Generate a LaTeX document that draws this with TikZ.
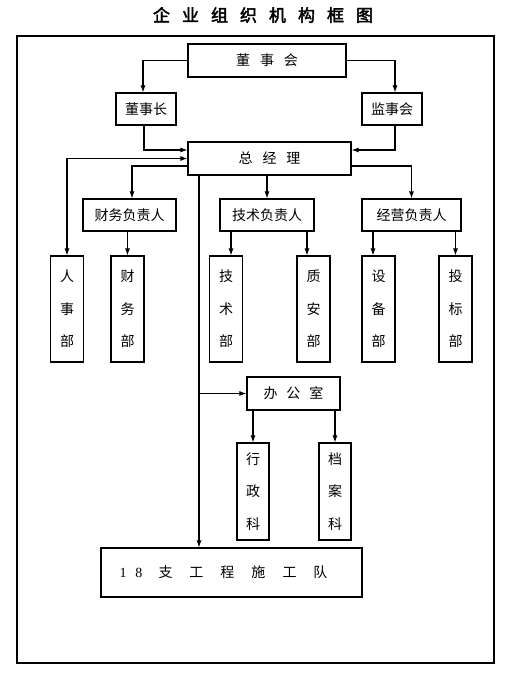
\documentclass[tikz,border=0pt]{standalone}
\usepackage{fontspec}
\usetikzlibrary{arrows.meta}
\newfontfamily\cjk{Noto Sans CJK SC}
\newfontfamily\cjkbold[FakeBold=2.5]{Noto Sans CJK SC}
\newfontfamily\numfont{Liberation Serif}
\newcommand\wgap{\hspace{12pt}}
\newcommand\sgap{\hspace{10pt}}
\newcommand\tgap{\hspace{17pt}}

\begin{document}
\begin{tikzpicture}[
  x=1pt, y=-1pt, line width=1.1pt,
  box/.style={draw,inner sep=0pt,font=\cjk\fontsize{14}{14}\selectfont},
  vbox/.style={draw,inner sep=0pt,align=center,minimum width=33,minimum height=106,font=\cjk\fontsize{14}{32.5}\selectfont},
  sbox/.style={vbox,minimum width=32,minimum height=97},
  arr/.style={-{Latex[length=7pt,width=5pt]}},
  darr/.style={{Latex[length=7pt,width=5pt]}-{Latex[length=7pt,width=5pt]}}
]
  \useasboundingbox (0,0) rectangle (512,676);
  \node[font=\cjkbold\fontsize{17}{17}\selectfont] (title) at (263,15)
    {企\wgap 业\wgap 组\wgap 织\wgap 机\wgap 构\wgap 框\wgap 图};
  \draw[line width=1.5pt] (17,36) rectangle (494,663);

  \node[box,minimum width=158,minimum height=33] (board) at (267,60.5) {董\sgap 事\sgap 会};
  \node[box,minimum width=60,minimum height=32] (chair) at (146,109) {董事长};
  \node[box,minimum width=60,minimum height=32] (super) at (392,109) {监事会};
  \node[box,minimum width=163,minimum height=33] (gm) at (269.5,158.5) {总\sgap 经\sgap 理};
  \node[box,minimum width=93,minimum height=32] (fin) at (129.5,215) {财务负责人};
  \node[box,minimum width=94,minimum height=32] (tech) at (267,215) {技术负责人};
  \node[box,minimum width=99,minimum height=32] (biz) at (411.5,215) {经营负责人};

  \node[vbox] (hr) at (67,309) {人\\事\\部};
  \node[vbox] (finD) at (127.5,309) {财\\务\\部};
  \node[vbox] (techD) at (226,309) {技\\术\\部};
  \node[vbox] (qual) at (313.5,309) {质\\安\\部};
  \node[vbox] (equip) at (378.5,309) {设\\备\\部};
  \node[vbox] (bid) at (455.5,309) {投\\标\\部};

  \node[box,minimum width=93,minimum height=33] (office) at (293.5,393.5) {办\hspace{9pt}公\hspace{9pt}室};
  \node[sbox] (admin) at (253,491.5) {行\\政\\科};
  \node[sbox] (archive) at (335,491.5) {档\\案\\科};
  \node[box,minimum width=261,minimum height=49] (team) at (231.5,572.5)
    {{\numfont 1\hspace{9pt}8}\hspace{16pt}支\tgap 工\tgap 程\tgap 施\tgap 工\tgap 队\hspace*{16pt}\mbox{}};

  \draw[arr] (board.west) -| ([xshift=-3pt]chair.north);
  \draw[arr] (board.east) -| ([xshift=3pt]super.north);
  \draw[arr] ([xshift=-2pt]chair.south) |- ([yshift=8.5pt]gm.west);
  \draw[arr] ([xshift=3pt]super.south) |- ([yshift=8.5pt]gm.east);
  \draw[darr] (gm.west) -| (hr.north);
  \draw[arr] ([yshift=-7.5pt]gm.west) -| ([xshift=2.5pt]fin.north);
  \draw[arr] (tech.north |- gm.south) -- (tech.north);
  \draw[arr] ([yshift=-7.5pt]gm.east) -| (biz.north);

  \draw[arr] (finD.north |- fin.south) -- (finD.north);
  \draw[arr] ([xshift=5pt]techD.north |- tech.south) -- ([xshift=5pt]techD.north);
  \draw[arr] ([xshift=-6.5pt]qual.north |- tech.south) -- ([xshift=-6.5pt]qual.north);
  \draw[arr] ([xshift=-5.5pt]equip.north |- biz.south) -- ([xshift=-5.5pt]equip.north);
  \draw[arr] (bid.north |- biz.south) -- (bid.north);

  \coordinate (trunk) at ([xshift=-70.5pt]gm.south);
  \draw[arr] (trunk) -- (trunk |- team.north);
  \draw[arr] (trunk |- office.west) -- (office.west);
  \draw[arr] (admin.north |- office.south) -- (admin.north);
  \draw[arr] (archive.north |- office.south) -- (archive.north);
\end{tikzpicture}
\end{document}
